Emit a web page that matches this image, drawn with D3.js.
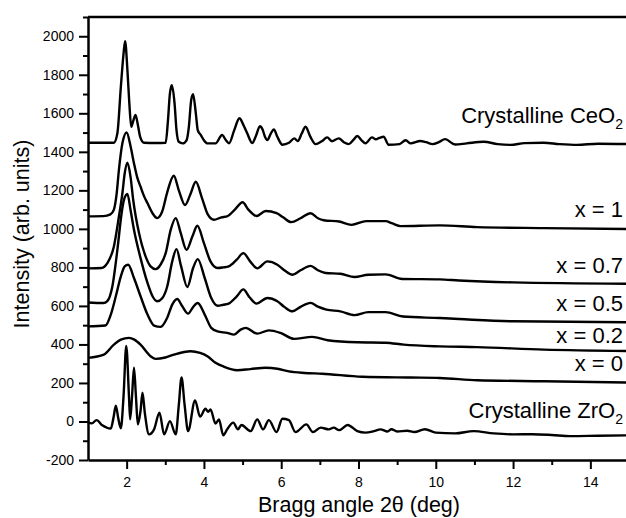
<!DOCTYPE html>
<html>
<head>
<meta charset="utf-8">
<script src="https://d3js.org/d3.v7.min.js"></script>
<style>
  body { margin: 0; background: #fff; }
  svg { display: block; font-family: "Liberation Sans", Arial, sans-serif; }
</style>
</head>
<body>
<div id="chart"></div>
<script>
// Digitised patterns, [2theta (deg), intensity (arb. units)]
const ceo2 = [[1.0,1447],[1.5,1447],[1.67,1447],[1.76,1496],[1.85,1737],[1.92,1910],[1.96,1975],[2.02,1824],[2.07,1651],[2.12,1530],[2.17,1560],[2.23,1592],[2.29,1540],[2.35,1478],[2.45,1447],[2.75,1446],[3.01,1447],[3.07,1565],[3.12,1703],[3.17,1746],[3.24,1651],[3.29,1513],[3.35,1452],[3.45,1444],[3.55,1460],[3.61,1530],[3.67,1668],[3.72,1699],[3.79,1600],[3.84,1513],[3.92,1487],[4.0,1460],[4.09,1444],[4.3,1444],[4.47,1487],[4.57,1460],[4.65,1444],[4.78,1510],[4.92,1574],[5.02,1540],[5.12,1496],[5.25,1446],[5.35,1485],[5.45,1533],[5.52,1515],[5.58,1478],[5.64,1461],[5.73,1495],[5.81,1516],[5.9,1478],[6.03,1437],[6.2,1447],[6.34,1470],[6.43,1456],[6.53,1495],[6.63,1530],[6.75,1480],[6.89,1440],[7.05,1455],[7.19,1475],[7.31,1455],[7.49,1470],[7.62,1450],[7.75,1440],[7.88,1465],[7.97,1482],[8.08,1460],[8.18,1444],[8.35,1475],[8.45,1465],[8.54,1472],[8.65,1478],[8.78,1437],[9.06,1440],[9.22,1460],[9.35,1444],[9.6,1456],[9.75,1450],[9.92,1440],[10.08,1450],[10.24,1466],[10.5,1438],[10.8,1444],[11.24,1452],[11.6,1440],[11.93,1436],[12.3,1445],[12.79,1447],[13.2,1440],[13.66,1436],[14.2,1442],[15.0,1440]];

const x1 = [[1.0,1065],[1.4,1066],[1.58,1075],[1.67,1100],[1.74,1180],[1.8,1306],[1.89,1444],[2.0,1500],[2.1,1430],[2.19,1340],[2.27,1270],[2.36,1219],[2.45,1170],[2.54,1133],[2.67,1081],[2.79,1056],[2.92,1090],[3.05,1190],[3.22,1276],[3.35,1200],[3.51,1124],[3.65,1180],[3.79,1245],[3.95,1160],[4.1,1075],[4.26,1047],[4.45,1060],[4.6,1065],[4.8,1100],[5.0,1138],[5.15,1100],[5.36,1067],[5.6,1093],[5.88,1082],[6.05,1060],[6.26,1035],[6.5,1055],[6.76,1081],[6.95,1055],[7.1,1045],[7.5,1038],[7.82,1021],[8.2,1040],[8.7,1040],[8.88,1028],[9.09,1014],[10.1,1018],[11.07,1009],[12.8,1004],[15.0,999]];

const x07 = [[1.0,795],[1.35,797],[1.5,822],[1.67,909],[1.8,1064],[1.89,1185],[1.95,1289],[2.02,1344],[2.1,1271],[2.17,1150],[2.32,978],[2.49,857],[2.62,805],[2.75,791],[2.88,815],[3.01,874],[3.14,995],[3.27,1056],[3.4,978],[3.55,891],[3.7,960],[3.83,1016],[4.0,926],[4.17,831],[4.35,797],[4.5,800],[4.64,805],[4.85,840],[5.02,874],[5.2,830],[5.38,795],[5.64,831],[5.9,814],[6.08,785],[6.29,762],[6.5,785],[6.76,808],[6.95,785],[7.15,771],[7.53,767],[7.9,750],[8.25,762],[8.7,764],[9.13,740],[10.1,738],[10.6,732],[12.0,722],[15.0,715]];

const x05 = [[1.0,618],[1.4,615],[1.5,625],[1.63,701],[1.76,891],[1.87,1081],[1.93,1150],[2.02,1181],[2.1,1099],[2.19,995],[2.36,848],[2.54,719],[2.67,650],[2.79,624],[2.92,640],[3.05,701],[3.18,831],[3.29,895],[3.41,805],[3.57,698],[3.72,797],[3.84,843],[4.02,745],[4.19,641],[4.35,601],[4.5,606],[4.64,612],[4.85,650],[5.02,686],[5.18,645],[5.36,612],[5.64,641],[5.9,624],[6.08,595],[6.29,572],[6.5,595],[6.76,616],[6.95,596],[7.17,581],[7.53,572],[7.9,552],[8.25,568],[8.7,568],[9.15,545],[10.1,537],[10.6,532],[12.0,520],[15.0,515]];

const x02 = [[1.0,494],[1.45,498],[1.59,555],[1.72,650],[1.85,753],[1.95,805],[2.04,814],[2.19,745],[2.36,650],[2.54,555],[2.71,498],[2.88,491],[3.05,538],[3.18,607],[3.31,636],[3.44,598],[3.59,560],[3.72,594],[3.84,615],[4.02,555],[4.19,486],[4.35,468],[4.6,460],[4.78,451],[4.95,477],[5.08,486],[5.38,456],[5.68,473],[5.98,460],[6.33,429],[6.8,439],[7.2,422],[7.97,411],[8.7,409],[9.17,399],[10.1,390],[11.07,386],[12.8,373],[15.0,366]];

const x0 = [[1.0,330],[1.41,347],[1.67,399],[1.85,425],[2.06,434],[2.2,425],[2.36,399],[2.62,339],[2.75,325],[3.0,332],[3.22,347],[3.66,365],[3.9,356],[4.09,339],[4.3,305],[4.52,284],[4.86,266],[5.2,272],[5.6,279],[5.9,274],[6.2,260],[6.6,252],[7.06,248],[8.1,232],[9.35,228],[10.1,226],[11.07,214],[12.8,209],[15.0,202]];

const zro2 = [[1.0,-5],[1.1,-10],[1.22,7],[1.37,-20],[1.59,-37],[1.66,20],[1.72,82],[1.78,20],[1.85,-35],[1.92,132],[1.99,392],[2.06,132],[2.09,11],[2.14,132],[2.19,279],[2.24,132],[2.29,-15],[2.36,56],[2.41,149],[2.47,45],[2.58,-67],[2.71,-41],[2.85,45],[2.97,-67],[3.12,2],[3.27,-67],[3.35,86],[3.42,228],[3.5,86],[3.59,-50],[3.77,109],[3.9,25],[4.04,66],[4.11,50],[4.17,63],[4.3,-11],[4.39,11],[4.5,-72],[4.6,-41],[4.76,-6],[4.88,-41],[4.97,-18],[5.21,-50],[5.38,11],[5.53,-41],[5.68,7],[5.88,-55],[6.03,14],[6.2,7],[6.37,-55],[6.65,-15],[6.82,-55],[7.02,-32],[7.23,-41],[7.36,-32],[7.5,-45],[7.72,-18],[7.97,-50],[8.18,-58],[8.4,-50],[8.57,-41],[8.75,-52],[8.85,-40],[9.0,-52],[9.26,-48],[9.45,-55],[9.72,-40],[10.0,-58],[10.5,-62],[10.98,-50],[11.5,-62],[12.02,-67],[12.5,-66],[13.0,-70],[13.48,-76],[14.2,-74],[15.0,-72]];

const patterns = [ceo2, x1, x07, x05, x02, x0, zro2];

// curve labels: main text and subscript
const labelText = ["Crystalline CeO", "x = 1", "x = 0.7", "x = 0.5", "x = 0.2", "x = 0", "Crystalline ZrO"];
const labelSub = ["2", "", "", "", "", "", "2"];
const labelBaseline = [123, 217, 273, 311, 343, 371, 418];   // px

const xTickValues = [2, 4, 6, 8, 10, 12, 14];
const xMinorValues = [3, 5, 7, 9, 11, 13, 15];
const yTickValues = [-200, 0, 200, 400, 600, 800, 1000, 1200, 1400, 1600, 1800, 2000];
const yMinorValues = [-100, 100, 300, 500, 700, 900, 1100, 1300, 1500, 1700, 1900, 2100];

const width = 626, height = 518;
const margin = { top: 17, right: -3, bottom: 58, left: 88 };

const svg = d3.select('#chart')
    .append('svg')
    .attr('width', width)
    .attr('height', height);

const x = d3.scaleLinear()
    .domain([1, 15])
    .range([margin.left, width - margin.right]);

const y = d3.scaleLinear()
    .domain([-200, 2100])
    .range([height - margin.bottom, margin.top]);

// frame (top / right)
svg.append('path')
    .attr('d', `M${x(1)},${y(2100)}H${x(15)}V${y(-200)}`)
    .attr('fill', 'none')
    .attr('stroke', '#000')
    .attr('stroke-width', 2.5);

// minor ticks
svg.append('g')
    .attr('transform', `translate(0,${y(-200)})`)
    .call(d3.axisBottom(x).tickValues(xMinorValues).tickSize(5).tickSizeOuter(0).tickFormat(''))
    .call(g => g.select('.domain').remove());
svg.append('g')
    .attr('transform', `translate(${x(1)},0)`)
    .call(d3.axisLeft(y).tickValues(yMinorValues).tickSize(5).tickSizeOuter(0).tickFormat(''))
    .call(g => g.select('.domain').remove());

// major axes
svg.append('g')
    .attr('transform', `translate(0,${y(-200)})`)
    .call(d3.axisBottom(x).tickValues(xTickValues).tickSize(9).tickSizeOuter(0).tickPadding(8));

svg.append('g')
    .attr('transform', `translate(${x(1)},0)`)
    .call(d3.axisLeft(y).tickValues(yTickValues).tickSize(9).tickSizeOuter(0).tickPadding(5)
        .tickFormat(d => String(d)));

svg.selectAll('.tick line').attr('stroke', '#000').attr('stroke-width', 2);
svg.selectAll('.domain').attr('stroke', '#000').attr('stroke-width', 2.5);
svg.selectAll('.tick text')
    .style('font-family', '"Liberation Sans", Arial, sans-serif')
    .style('font-size', '14px')
    .attr('fill', '#000');

// patterns
const line = d3.line()
    .x(d => x(d[0]))
    .y(d => y(d[1]))
    .curve(d3.curveMonotoneX);

svg.append('g')
    .selectAll('path')
    .data(patterns)
    .join('path')
    .attr('d', line)
    .attr('fill', 'none')
    .attr('stroke', '#000')
    .attr('stroke-width', 2.4)
    .attr('stroke-linejoin', 'round');

// labels
const labels = svg.append('g')
    .style('font-size', '22px')
    .attr('text-anchor', 'end');

labelText.forEach((t, i) => {
    const txt = labels.append('text')
        .attr('x', 623)
        .attr('y', labelBaseline[i]);
    txt.append('tspan').text(t);
    if (labelSub[i]) {
        txt.append('tspan')
            .attr('dy', 6)
            .style('font-size', '14px')
            .text(labelSub[i]);
    }
});

// axis titles
svg.append('text')
    .attr('x', 359)
    .attr('y', 512)
    .attr('text-anchor', 'middle')
    .style('font-size', '21.5px')
    .text('Bragg angle 2θ (deg)');

svg.append('text')
    .attr('transform', `translate(29,234) rotate(-90)`)
    .attr('text-anchor', 'middle')
    .style('font-size', '21.5px')
    .text('Intensity (arb. units)');
</script>
</body>
</html>
